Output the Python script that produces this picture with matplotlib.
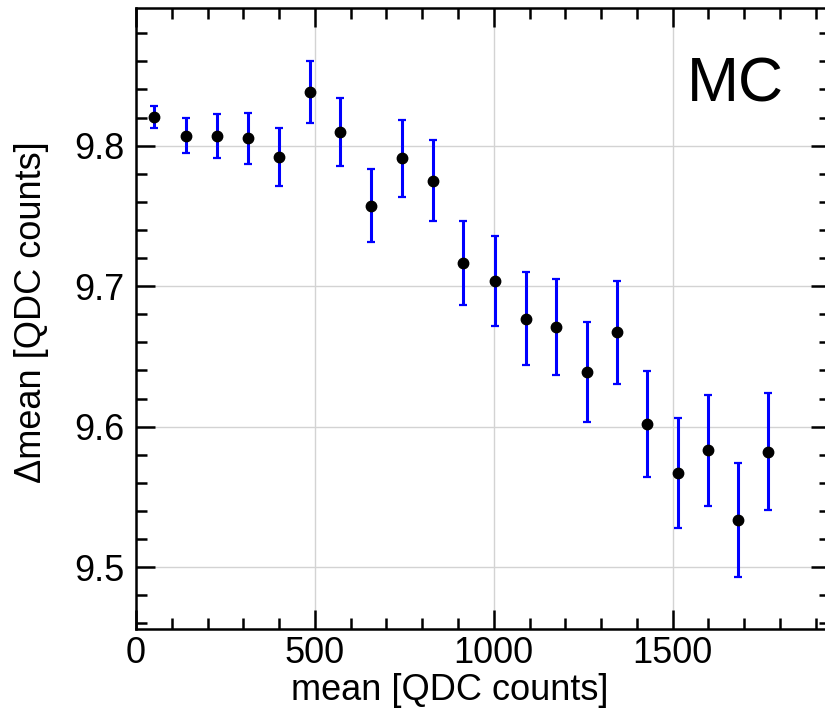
import numpy as np
import matplotlib.pyplot as plt
from matplotlib.ticker import MultipleLocator

plt.rcParams['font.family'] = ['Liberation Sans', 'DejaVu Sans']

# bin centres [QDC counts]
mean_x = [50, 139, 226, 312, 400, 486, 570, 657, 744, 831, 915,
          1003, 1090, 1174, 1261, 1344, 1428, 1514, 1599, 1682, 1766]
# delta mean [QDC counts]
dmean = [9.8202, 9.8071, 9.8070, 9.8052, 9.7919, 9.8383, 9.8097, 9.7574,
         9.7909, 9.7750, 9.7165, 9.7038, 9.6770, 9.6711, 9.6389, 9.6673,
         9.6017, 9.5670, 9.5832, 9.5334, 9.5822]
dmean_err = [0.0077, 0.0125, 0.0155, 0.0183, 0.0206, 0.0222, 0.0241, 0.0259,
             0.0276, 0.0289, 0.0302, 0.0321, 0.0333, 0.0343, 0.0355, 0.0367,
             0.0377, 0.0390, 0.0396, 0.0407, 0.0417]

fig = plt.figure(figsize=(8.25, 7.13), dpi=100)
ax = fig.add_axes([136/825, 84/713, 694/825, 621/713])

ax.errorbar(mean_x, dmean, yerr=dmean_err, fmt='o', color='black',
            markersize=7.5, ecolor='blue', elinewidth=2.2, capsize=3,
            capthick=1.6, zorder=3)

ax.set_xlim(0, 1940)
ax.set_ylim(9.456, 9.898)

ax.xaxis.set_major_locator(MultipleLocator(500))
ax.xaxis.set_minor_locator(MultipleLocator(100))
ax.yaxis.set_minor_locator(MultipleLocator(0.02))
ax.set_yticks([9.5, 9.6, 9.7, 9.8])
ax.yaxis.set_major_formatter(plt.FuncFormatter(lambda v, p: '%.1f' % v))

ax.tick_params(which='both', direction='in', top=True, right=True,
               width=1.8, labelsize=26, color='black')
ax.tick_params(which='major', length=14, pad=8)
ax.tick_params(axis='x', which='major', pad=5)
ax.tick_params(which='minor', length=8)
for s in ax.spines.values():
    s.set_linewidth(1.8)

ax.grid(True, which='major', color='#d3d3d3', linewidth=1.0)
ax.set_axisbelow(True)

ax.set_xlabel('mean [QDC counts]', fontsize=26)
ax.xaxis.set_label_coords(0.452, -0.071)
ax.set_ylabel('Δmean [QDC counts]', fontsize=26)
ax.yaxis.set_label_coords(-0.126, 0.51)

ax.text(0.863, 0.876, 'MC', transform=ax.transAxes, fontsize=45,
        ha='center', va='center')

fig.savefig('out.png', dpi=100)
